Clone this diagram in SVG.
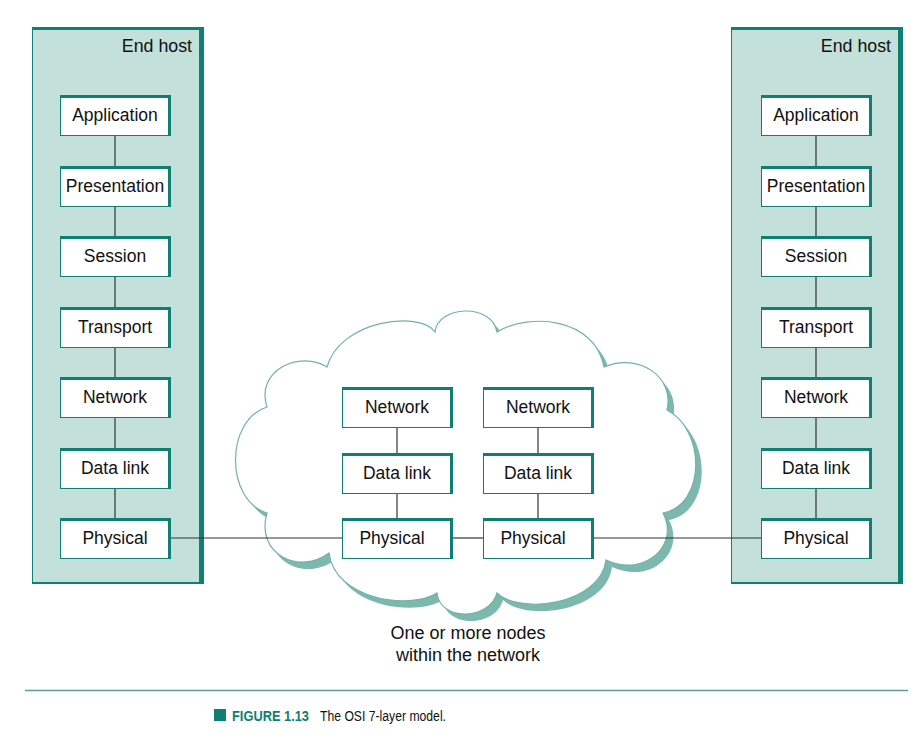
<svg xmlns="http://www.w3.org/2000/svg" width="923" height="750" viewBox="0 0 923 750">
<style>
.t{font-family:"Liberation Sans",Arial,sans-serif;font-size:17.5px;fill:#111;text-anchor:middle}
.h{font-family:"Liberation Sans",Arial,sans-serif;font-size:17.8px;fill:#111;text-anchor:end}
.c{font-family:"Liberation Sans",Arial,sans-serif;font-size:18px;fill:#111;text-anchor:middle}
.edge{stroke:#333;stroke-width:1.2;fill:none}
.bo{fill:#0e7f72}
.bi{fill:#fff}
.po{fill:#0e7f72}
.pi{fill:#c4e0da}
</style>
<defs>
<path id="cloud" d="M 435 332 C 438 305, 492 303, 497 332 C 530 312, 595 318, 604 367 C 640 352, 675 378, 667 410 C 706 430, 706 505, 663 513 C 680 545, 645 578, 606 560 C 600 605, 520 615, 497 593 C 490 620, 440 622, 437 593 C 410 610, 335 600, 329 553 C 300 575, 255 555, 267 513 C 225 500, 225 420, 267 407 C 255 370, 300 350, 327 367 C 340 320, 420 310, 435 332 Z"/>
<g id="box"><rect class="bo" x="0" y="0" width="111" height="41"/><rect class="bi" x="1" y="3" width="107" height="37"/></g>
</defs>
<rect width="923" height="750" fill="#fff"/>

<g id="host-left">
<rect class="po" x="32" y="27" width="172" height="557"/>
<rect class="pi" x="33" y="30" width="166" height="552"/>
<text class="h" x="192" y="52">End host</text>
</g>
<g id="host-right">
<rect class="po" x="731" y="27" width="172" height="557"/>
<rect class="pi" x="732" y="30" width="166" height="552"/>
<text class="h" x="891" y="52">End host</text>
</g>

<g id="cloud-g">
<use href="#cloud" transform="translate(6,7)" fill="#7db8ae"/>
<use href="#cloud" fill="#fff" stroke="#6fb3a8" stroke-width="1.2"/>
</g>

<g id="connectors">
<line class="edge" x1="115" y1="136" x2="115" y2="166"/>
<line class="edge" x1="115" y1="207" x2="115" y2="236"/>
<line class="edge" x1="115" y1="277" x2="115" y2="307"/>
<line class="edge" x1="115" y1="348" x2="115" y2="377"/>
<line class="edge" x1="115" y1="418" x2="115" y2="448"/>
<line class="edge" x1="115" y1="489" x2="115" y2="518"/>
<line class="edge" x1="816" y1="136" x2="816" y2="166"/>
<line class="edge" x1="816" y1="207" x2="816" y2="236"/>
<line class="edge" x1="816" y1="277" x2="816" y2="307"/>
<line class="edge" x1="816" y1="348" x2="816" y2="377"/>
<line class="edge" x1="816" y1="418" x2="816" y2="448"/>
<line class="edge" x1="816" y1="489" x2="816" y2="518"/>
<line class="edge" x1="397" y1="428" x2="397" y2="453"/>
<line class="edge" x1="397" y1="494" x2="397" y2="518"/>
<line class="edge" x1="538" y1="428" x2="538" y2="453"/>
<line class="edge" x1="538" y1="494" x2="538" y2="518"/>
<line class="edge" x1="171" y1="538" x2="342" y2="538"/>
<line class="edge" x1="453" y1="538" x2="483" y2="538"/>
<line class="edge" x1="594" y1="538" x2="761" y2="538"/>
</g>

<g id="l-app"><use href="#box" x="60" y="95"/><text class="t" x="115" y="121">Application</text></g>
<g id="l-pres"><use href="#box" x="60" y="166"/><text class="t" x="115" y="192">Presentation</text></g>
<g id="l-sess"><use href="#box" x="60" y="236"/><text class="t" x="115" y="262">Session</text></g>
<g id="l-trans"><use href="#box" x="60" y="307"/><text class="t" x="115" y="333">Transport</text></g>
<g id="l-net"><use href="#box" x="60" y="377"/><text class="t" x="115" y="403">Network</text></g>
<g id="l-dl"><use href="#box" x="60" y="448"/><text class="t" x="115" y="474">Data link</text></g>
<g id="l-phy"><use href="#box" x="60" y="518"/><text class="t" x="115" y="544">Physical</text></g>

<g id="r-app"><use href="#box" x="761" y="95"/><text class="t" x="816" y="121">Application</text></g>
<g id="r-pres"><use href="#box" x="761" y="166"/><text class="t" x="816" y="192">Presentation</text></g>
<g id="r-sess"><use href="#box" x="761" y="236"/><text class="t" x="816" y="262">Session</text></g>
<g id="r-trans"><use href="#box" x="761" y="307"/><text class="t" x="816" y="333">Transport</text></g>
<g id="r-net"><use href="#box" x="761" y="377"/><text class="t" x="816" y="403">Network</text></g>
<g id="r-dl"><use href="#box" x="761" y="448"/><text class="t" x="816" y="474">Data link</text></g>
<g id="r-phy"><use href="#box" x="761" y="518"/><text class="t" x="816" y="544">Physical</text></g>

<g id="m1-net"><use href="#box" x="342" y="387"/><text class="t" x="397" y="413">Network</text></g>
<g id="m1-dl"><use href="#box" x="342" y="453"/><text class="t" x="397" y="479">Data link</text></g>
<g id="m1-phy"><use href="#box" x="342" y="518"/><text class="t" x="392" y="544">Physical</text></g>
<g id="m2-net"><use href="#box" x="483" y="387"/><text class="t" x="538" y="413">Network</text></g>
<g id="m2-dl"><use href="#box" x="483" y="453"/><text class="t" x="538" y="479">Data link</text></g>
<g id="m2-phy"><use href="#box" x="483" y="518"/><text class="t" x="533" y="544">Physical</text></g>

<text class="c" x="468" y="639">One or more nodes</text>
<text class="c" x="468" y="661">within the network</text>

<line x1="25" y1="690.5" x2="908" y2="690.5" stroke="#5a9e95" stroke-width="1.5"/>
<rect x="214" y="709" width="12" height="12" fill="#0e7f72"/>
<text x="232" y="721" font-family="'Liberation Sans',Arial,sans-serif" font-weight="bold" font-size="14" fill="#0e7f72" textLength="77" lengthAdjust="spacingAndGlyphs">FIGURE 1.13</text>
<text x="320" y="721" font-family="'Liberation Sans',Arial,sans-serif" font-size="15.5" fill="#111" textLength="126" lengthAdjust="spacingAndGlyphs">The OSI 7-layer model.</text>
</svg>
